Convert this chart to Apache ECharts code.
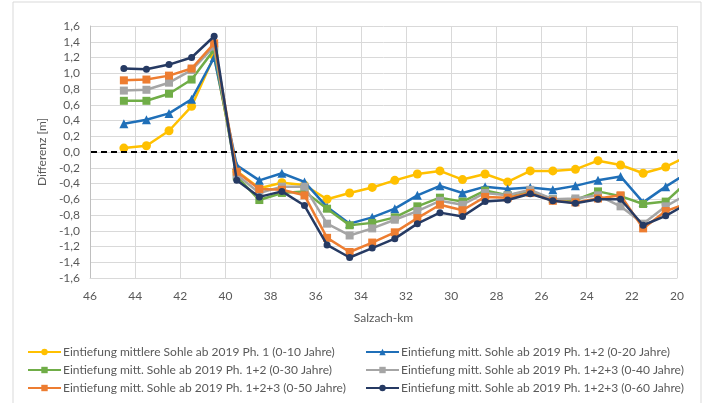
<!DOCTYPE html>
<html>
<head>
<meta charset="utf-8">
<script src="https://cdn.jsdelivr.net/npm/echarts@6/dist/echarts.min.js"></script>
<style>
  html, body { margin: 0; padding: 0; background: #fff; }
  #main { width: 708px; height: 403px; }
</style>
</head>
<body>
<div id="main"></div>
<script>
// Salzach-km der Messpunkte (letzter Punkt liegt ausserhalb der Achse und wird abgeschnitten)
var km = [44.5, 43.5, 42.5, 41.5, 40.5, 39.5, 38.5, 37.5, 36.5, 35.5, 34.5, 33.5, 32.5,
  31.5, 30.5, 29.5, 28.5, 27.5, 26.5, 25.5, 24.5, 23.5, 22.5, 21.5, 20.5, 19.5];

var names = [
  'Eintiefung mittlere Sohle ab 2019 Ph. 1 (0-10 Jahre)',
  'Eintiefung mitt. Sohle ab 2019 Ph. 1+2 (0-20 Jahre)',
  'Eintiefung mitt. Sohle ab 2019 Ph. 1+2 (0-30 Jahre)',
  'Eintiefung mitt. Sohle ab 2019 Ph. 1+2+3 (0-40 Jahre)',
  'Eintiefung mitt. Sohle ab 2019 Ph. 1+2+3 (0-50 Jahre)',
  'Eintiefung mitt. Sohle ab 2019 Ph. 1+2+3 (0-60 Jahre)'
];

var ph10 = [0.05, 0.08, 0.27, 0.58, 1.22, -0.24, -0.46, -0.39, -0.42, -0.60, -0.52, -0.45, -0.36,
  -0.28, -0.24, -0.35, -0.28, -0.38, -0.24, -0.24, -0.22, -0.11, -0.165, -0.27, -0.19, -0.05];
var ph20 = [0.36, 0.41, 0.49, 0.67, 1.20, -0.17, -0.36, -0.27, -0.38, -0.70, -0.91, -0.83, -0.72,
  -0.55, -0.43, -0.52, -0.44, -0.47, -0.45, -0.48, -0.43, -0.36, -0.31, -0.64, -0.44, -0.26];
var ph30 = [0.65, 0.65, 0.74, 0.92, 1.30, -0.31, -0.61, -0.52, -0.50, -0.72, -0.93, -0.90, -0.83,
  -0.69, -0.58, -0.63, -0.49, -0.55, -0.50, -0.60, -0.61, -0.50, -0.56, -0.66, -0.63, -0.37];
var ph40 = [0.78, 0.79, 0.88, 1.04, 1.34, -0.29, -0.52, -0.44, -0.44, -0.91, -1.06, -0.97, -0.86,
  -0.75, -0.62, -0.67, -0.52, -0.55, -0.48, -0.60, -0.59, -0.55, -0.69, -0.91, -0.69, -0.53];
var ph50 = [0.91, 0.92, 0.97, 1.06, 1.38, -0.25, -0.47, -0.48, -0.55, -1.09, -1.27, -1.15, -1.02,
  -0.84, -0.67, -0.74, -0.57, -0.58, -0.52, -0.62, -0.64, -0.59, -0.55, -0.97, -0.75, -0.65];
var ph60 = [1.06, 1.05, 1.11, 1.20, 1.47, -0.36, -0.57, -0.50, -0.68, -1.18, -1.34, -1.22, -1.10,
  -0.91, -0.77, -0.82, -0.63, -0.61, -0.53, -0.62, -0.65, -0.60, -0.60, -0.93, -0.81, -0.65];

var values = [ph10, ph20, ph30, ph40, ph50, ph60];
var colors = ['#FFC000', '#1F6FB8', '#70AD47', '#A5A5A5', '#ED7D31', '#263A63'];
var symbols = ['circle', 'triangle', 'rect', 'rect', 'rect', 'circle'];
var symSizes = [9, 9, 8, 8, 8, 7];

var myChart = echarts.init(document.getElementById('main'));
var font = 'Lato';
var txtColor = '#595959';

function pairs(vals) {
  var out = [];
  for (var i = 0; i < km.length; i++) out.push([km[i], vals[i]]);
  return out;
}

var series = [];
for (let i = 0; i < names.length; i++) {
  series.push({
    name: names[i],
    type: 'line',
    data: pairs(values[i]),
    symbol: symbols[i],
    symbolSize: symSizes[i],
    showAllSymbol: true,
    clip: true,
    lineStyle: { color: colors[i], width: 2.5 },
    itemStyle: { color: colors[i] },
    z: 3 + i
  });
}
// gestrichelte Nulllinie
series.push({
  type: 'line',
  data: [],
  silent: true,
  markLine: {
    silent: true,
    symbol: 'none',
    label: { show: false },
    lineStyle: { color: '#000', type: [6, 4], width: 2 },
    data: [{ yAxis: 0 }]
  },
  z: 2
});

const option = {
  animation: false,
  textStyle: { fontFamily: font },
  graphic: [{
    type: 'rect',
    shape: { x: 13, y: 2, width: 688, height: 420 },
    style: { fill: 'none', stroke: '#D9D9D9', lineWidth: 1 },
    silent: true
  }],
  grid: { left: 90, right: 31, top: 26, bottom: 125 },
  xAxis: {
    type: 'value',
    inverse: true,
    min: 20,
    max: 46,
    interval: 2,
    name: 'Salzach-km',
    nameLocation: 'middle',
    nameGap: 34,
    nameTextStyle: { color: txtColor, fontSize: 12, fontFamily: font },
    axisLine: { onZero: false, lineStyle: { color: '#D9D9D9' } },
    axisTick: { show: false },
    axisLabel: { color: txtColor, fontSize: 12, margin: 12, fontFamily: font },
    splitLine: { show: true, lineStyle: { color: '#D9D9D9' } }
  },
  yAxis: {
    type: 'value',
    min: -1.6,
    max: 1.6,
    interval: 0.2,
    name: 'Differenz [m]',
    nameLocation: 'middle',
    nameRotate: 90,
    nameGap: 42,
    nameTextStyle: { color: txtColor, fontSize: 12, fontFamily: font },
    axisLine: { show: true, lineStyle: { color: '#BFBFBF' } },
    axisTick: { show: false },
    axisLabel: {
      color: txtColor, fontSize: 12, margin: 10, fontFamily: font,
      formatter: function (v) { return v.toFixed(1).replace('.', ','); }
    },
    splitLine: { show: true, lineStyle: { color: '#D9D9D9' } }
  },
  legend: [{
    data: [names[0], names[2], names[4]],
    orient: 'vertical',
    left: 22,
    top: 341,
    itemWidth: 33,
    itemHeight: 8,
    itemGap: 6,
    textStyle: { color: txtColor, fontSize: 12, fontFamily: font, padding: [0, 0, 0, -3] }
  }, {
    data: [names[1], names[3], names[5]],
    orient: 'vertical',
    left: 360,
    top: 341,
    itemWidth: 33,
    itemHeight: 8,
    itemGap: 6,
    textStyle: { color: txtColor, fontSize: 12, fontFamily: font, padding: [0, 0, 0, -3] }
  }],
  series: series
};
myChart.setOption(option);
</script>
</body>
</html>
